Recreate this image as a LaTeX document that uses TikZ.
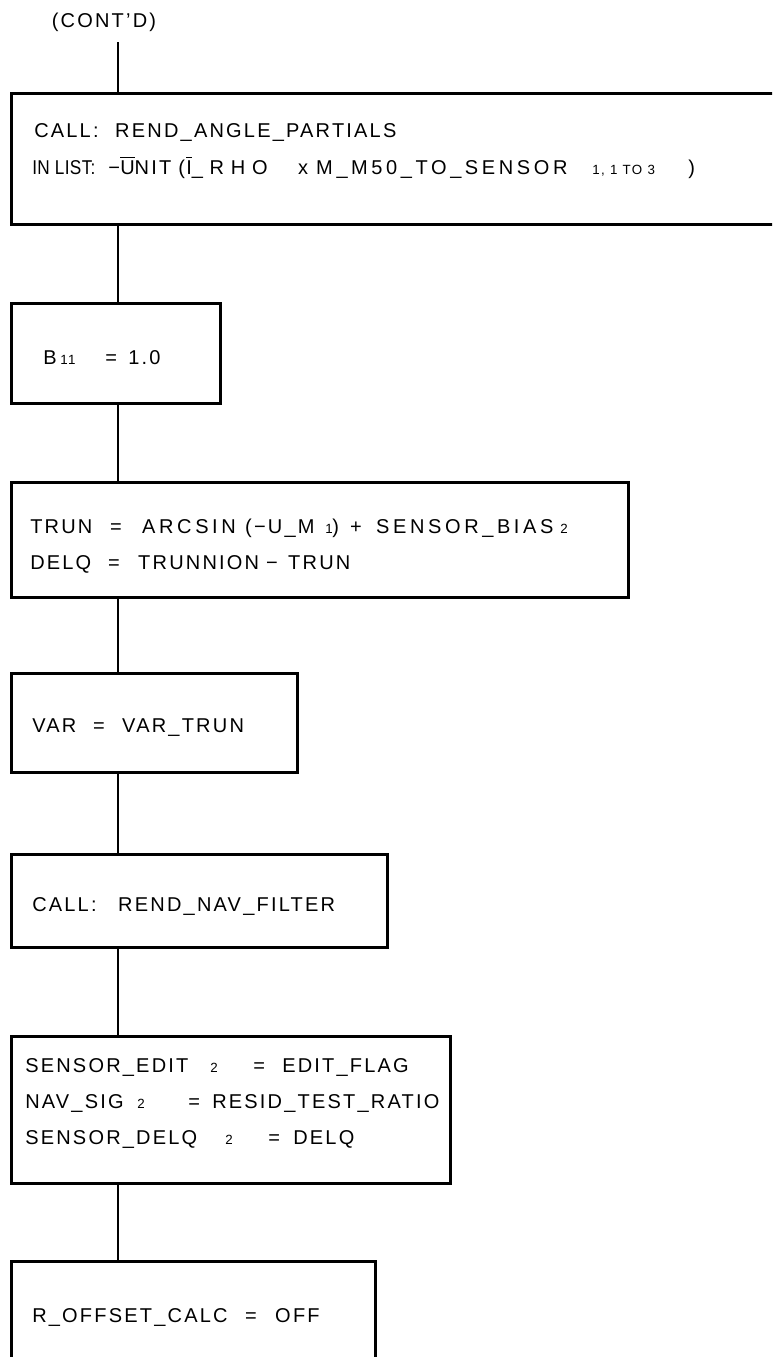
\documentclass[tikz,border=0pt]{standalone}
\usepackage{fontspec}
\usepackage{graphicx}
\setmainfont{Liberation Sans}[LetterSpace=11]
\newlength\px \setlength\px{0.75pt}
\newcommand\seg[2]{\makebox[#1\px][l]{#2}}
\newcommand\sm[1]{{\fontsize{10}{10}\selectfont #1}}
\newcommand\wide[1]{{\addfontfeature{LetterSpace=18}#1}}
\newcommand\wider[1]{{\addfontfeature{LetterSpace=34}#1}}
\newcommand\tight[1]{\scalebox{0.86}[1]{\addfontfeature{LetterSpace=2}#1}}
\newcommand\ovl[1]{\vbox{\hrule height 0.7pt\kern 1.4pt\hbox{#1}}}
\begin{document}
\begin{tikzpicture}[x=0.75pt,y=-0.75pt,
  blk/.style={draw, line width=2.2pt, rectangle, inner sep=0pt, anchor=north west},
  lbl/.style={anchor=base west, inner sep=0pt, font=\fontsize{15}{15}\selectfont},
  link/.style={line width=1.6pt}]
\useasboundingbox (0,0) rectangle (772,1357);
\clip (0,0) rectangle (772,1357);
% boxes
\node[blk, minimum width=585pt, minimum height=98.25pt] (b1) at (10,92) {};
\node[blk, minimum width=156.75pt, minimum height=75pt] (b2) at (10,302) {};
\node[blk, minimum width=462.75pt, minimum height=86.25pt] (b3) at (10,481) {};
\node[blk, minimum width=214.5pt, minimum height=74.25pt] (b4) at (10,672) {};
\node[blk, minimum width=282pt, minimum height=69.75pt] (b5) at (10,853) {};
\node[blk, minimum width=329.25pt, minimum height=110.25pt] (b6) at (10,1035) {};
\node[blk, minimum width=273pt, minimum height=120pt] (b7) at (10,1260) {};
% texts
\node[lbl, anchor=center] (cont) at (104,22) {(CONT\symbol{"27}D)};
\node[lbl] (t1a) at (34,137) {\seg{81}{CALL:}REND\_ANGLE\_PARTIALS};
\node[lbl] (t1b) at (32,174) {\seg{76}{\tight{IN LIST:}}\seg{12}{−}\seg{58}{\ovl{U}NIT}\seg{8}{(}\seg{112}{\wider{\ovl{I}\_RHO}}\seg{18}{x}\seg{276}{\wide{M\_M50\_TO\_SENSOR}}\seg{96}{\sm{1, 1 TO 3}})};
\node[lbl] (t2) at (43,364) {\seg{17}{B}\seg{45}{\sm{11}}\seg{23}{=}1.0};
\node[lbl] (t3a) at (30,533) {\seg{80}{TRUN}\seg{32}{=}\seg{103}{\wide{ARCSIN}}\seg{80}{(−U\_M}\seg{7}{\sm{1}}\seg{18}{)}\seg{26}{+}\seg{184}{\wide{SENSOR\_BIAS}}\sm{2}};
\node[lbl] (t3b) at (30,569) {\seg{78}{DELQ}\seg{30}{=}\seg{128}{TRUNNION}\seg{22}{−}TRUN};
\node[lbl] (t4) at (32,732) {\seg{61}{VAR}\seg{29}{=}VAR\_TRUN};
\node[lbl] (t5) at (32,911) {\seg{86}{CALL:}REND\_NAV\_FILTER};
\node[lbl] (t6a) at (25,1072) {\seg{185}{SENSOR\_EDIT}\seg{43}{\sm{2}}\seg{29}{=}EDIT\_FLAG};
\node[lbl] (t6b) at (25,1108) {\seg{112}{NAV\_SIG}\seg{51}{\sm{2}}\seg{24}{=}RESID\_TEST\_RATIO};
\node[lbl] (t6c) at (25,1144) {\seg{200}{SENSOR\_DELQ}\seg{43}{\sm{2}}\seg{25}{=}DELQ};
\node[lbl] (t7) at (32,1322) {\seg{213}{R\_OFFSET\_CALC}\seg{30}{=}OFF};
% connectors
\coordinate (c0) at (118,42);
\draw[link] (c0) -- (b1.north -| c0);
\draw[link] (b1.south -| c0) -- (b2.north -| c0);
\draw[link] (b2.south -| c0) -- (b3.north -| c0);
\draw[link] (b3.south -| c0) -- (b4.north -| c0);
\draw[link] (b4.south -| c0) -- (b5.north -| c0);
\draw[link] (b5.south -| c0) -- (b6.north -| c0);
\draw[link] (b6.south -| c0) -- (b7.north -| c0);
\end{tikzpicture}
\end{document}
